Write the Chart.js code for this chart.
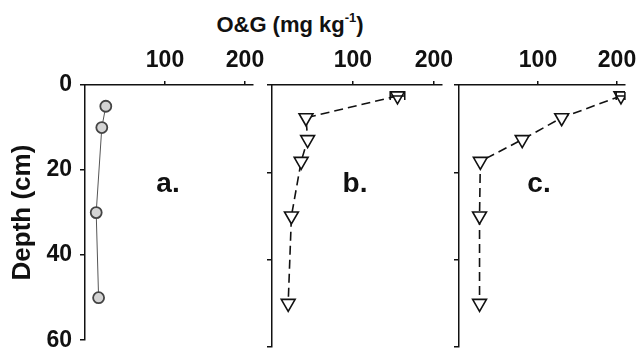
<!DOCTYPE html>
<html>
<head>
<meta charset="utf-8">
<script src="https://cdn.jsdelivr.net/npm/chart.js@4"></script>
<style>
  body { margin: 0; background: #fff; }
  #wrap { position: relative; width: 644px; height: 362px; color: #111;
    font-family: "Liberation Sans Narrow", "Arial Narrow", "Liberation Sans", Arial, sans-serif; font-weight: bold; }
  canvas { position: absolute; left: 0; top: 0; }
  #title { position: absolute; left: 190px; width: 200px; top: 14px; text-align: center; font-size: 22px; line-height: 1; }
  #title sup { font-size: 13px; vertical-align: baseline; position: relative; top: -10px; }
  .lbl { position: absolute; top: 169px; font-size: 28px; line-height: 1; transform: translateX(-50%); }
</style>
</head>
<body>
<div id="wrap">
  <div id="title">O&amp;G (mg kg<sup>-1</sup>)</div>
  <canvas id="panelA" width="644" height="362"></canvas>
  <canvas id="panelB" width="644" height="362"></canvas>
  <canvas id="panelC" width="644" height="362"></canvas>
  <div class="lbl" style="left:168px">a.</div>
  <div class="lbl" style="left:355px">b.</div>
  <div class="lbl" style="left:539px">c.</div>
</div>
<script>
const depthA = [5, 10, 30, 50];
const ogA = [26, 21, 14, 17];

const depthB = [2.5, 7.5, 12.5, 17.5, 30, 50];
const ogB = [155, 42, 44, 36, 24, 20];
const errB = [9, 0, 0, 0, 0, 0];

const depthC = [2.5, 7.5, 12.5, 17.5, 30, 50];
const ogC = [205, 130, 80, 27, 26, 26];
const errC = [6, 0, 0, 0, 0, 0];

const xTicks = [100, 200];
const yTicks = [0, 20, 40, 60];

const FONT = '"Liberation Sans Narrow", "Arial Narrow", "Liberation Sans", Arial, sans-serif';
const INK = '#111';

// horizontal error bars, read from dataset.err
const errorBars = {
  id: 'errorBars',
  afterDatasetsDraw(chart) {
    const { ctx, scales: { x, y } } = chart;
    chart.data.datasets.forEach(ds => {
      if (!ds.err) return;
      ds.data.forEach((p, i) => {
        const e = ds.err[i];
        if (!e) return;
        const x0 = x.getPixelForValue(p.x - e);
        const x1 = Math.min(x.getPixelForValue(p.x + e), x.right);
        const py = y.getPixelForValue(p.y);
        ctx.save();
        ctx.strokeStyle = INK;
        ctx.lineWidth = 1.5;
        ctx.beginPath();
        ctx.moveTo(x0, py); ctx.lineTo(x1, py);
        ctx.moveTo(x0, py - 4); ctx.lineTo(x0, py + 4);
        ctx.moveTo(x1, py - 4); ctx.lineTo(x1, py + 4);
        ctx.stroke();
        ctx.restore();
      });
    });
  }
};

function panel(id, og, depth, err, style, padL, padR, yWidth, showY) {
  return new Chart(document.getElementById(id), {
    type: 'scatter',
    data: {
      datasets: [{
        data: og.map((v, i) => ({ x: v, y: depth[i] })),
        showLine: true,
        err: err,
        ...style
      }]
    },
    plugins: [errorBars],
    options: {
      responsive: false,
      animation: false,
      layout: { padding: { left: padL, right: padR, top: 0, bottom: 15 } },
      plugins: { legend: { display: false }, tooltip: { enabled: false } },
      scales: {
        x: {
          type: 'linear', position: 'top', min: 0, max: 210,
          afterBuildTicks: s => { s.ticks = xTicks.map(v => ({ value: v })); },
          afterFit: s => { s.height = 85; },
          grid: { drawOnChartArea: false, tickLength: 4, color: INK, lineWidth: 1.5 },
          border: { color: INK, width: 1.5 },
          ticks: { padding: 7, maxRotation: 0, color: INK, font: { family: FONT, size: 23, weight: 'bold' } }
        },
        y: {
          type: 'linear', reverse: true, min: 0, max: 60,
          afterBuildTicks: s => { s.ticks = yTicks.map(v => ({ value: v })); },
          afterFit: s => { s.width = yWidth; },
          grid: { drawOnChartArea: false, tickLength: 5, color: INK, lineWidth: 1.5 },
          border: { color: INK, width: 1.5 },
          ticks: { display: showY, padding: 8, color: INK, font: { family: FONT, size: 23, weight: 'bold' } },
          title: {
            display: showY, text: 'Depth (cm)', color: INK, padding: { top: 7, bottom: 0 },
            font: { family: FONT, size: 26, weight: 'bold' }
          }
        }
      }
    }
  });
}

const circleStyle = {
  borderColor: '#555', borderWidth: 1,
  pointStyle: 'circle', pointRadius: 5.5, pointBackgroundColor: '#d4d4d4',
  pointBorderColor: '#444', pointBorderWidth: 1.8
};
const triStyle = {
  borderColor: INK, borderWidth: 1.6, borderDash: [9, 5],
  pointStyle: 'triangle', pointRotation: 180, pointRadius: 8,
  pointBackgroundColor: '#fff', pointBorderColor: INK, pointBorderWidth: 1.6
};

panel('panelA', ogA, depthA, null, circleStyle, 0, 644 - 253, 85, true);
panel('panelB', ogB, depthB, errB, triStyle, 266, 644 - 442, 6, false);
panel('panelC', ogC, depthC, errC, triStyle, 453, 644 - 627, 6, false);
</script>
</body>
</html>
